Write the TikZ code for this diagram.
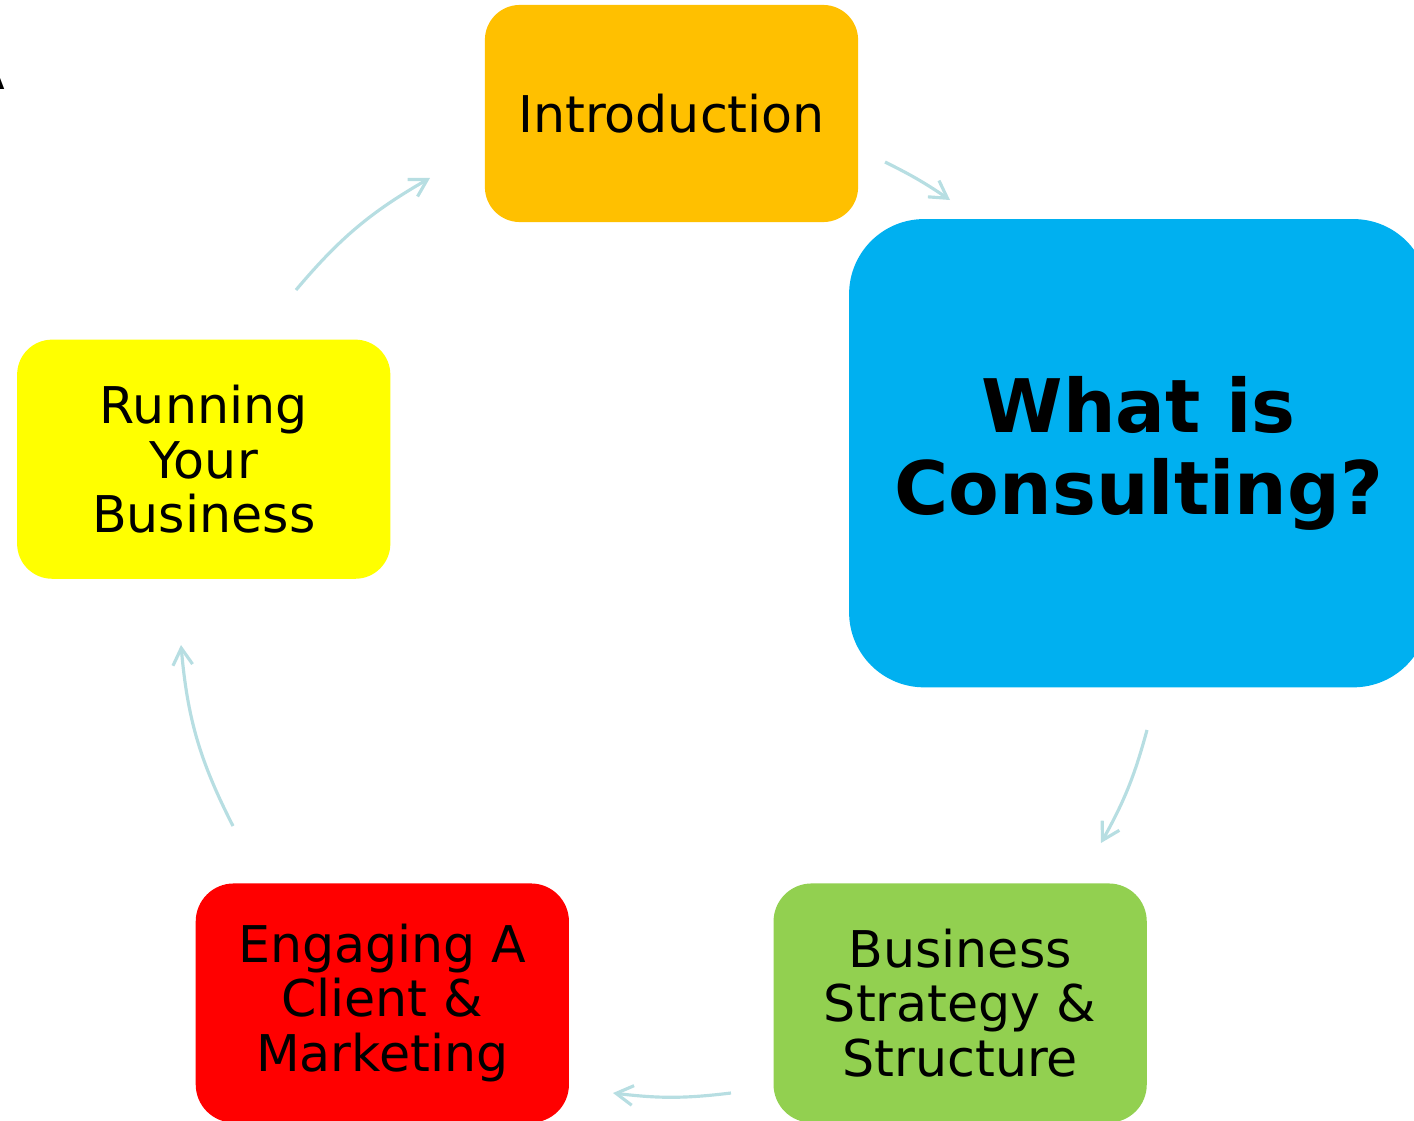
\documentclass[tikz,border=0pt]{standalone}
\usepackage{fontspec}
\setmainfont{DejaVu Sans}
\usepackage{xcolor}
\usepackage{tikz}
\definecolor{introorange}{RGB}{255,192,0}
\definecolor{consultblue}{RGB}{0,176,240}
\definecolor{stratgreen}{RGB}{146,208,80}
\definecolor{engagered}{RGB}{255,0,0}
\definecolor{runyellow}{RGB}{255,255,0}
\definecolor{cyclearrow}{RGB}{183,222,226}
\usetikzlibrary{arrows.meta, positioning}
\tikzset{
	box/.style={rectangle, align=center, inner sep=0pt, minimum width=3.73cm, minimum height=2.39cm, rounded corners=0.38cm, font=\fontsize{14.4}{15.6}\selectfont},
	flow/.style={-{Straight Barb[length=4.8pt, width=5.6pt]}, line width=0.9pt, draw=cyclearrow}
}

\begin{document}
\begin{tikzpicture}[x=0.01cm, y=0.01cm]
	\useasboundingbox (0,0) rectangle (1414,-1121);
	
	\node[anchor=base east, inner sep=0pt, font=\fontsize{14.4}{15.6}\selectfont] (cut) at (6,-90) {A};
	
	\node[box, minimum height=2.17cm, rounded corners=0.35cm, fill=introorange] (intro) at (671.5,-113.5) {Introduction};
	
	\node[box, right of=intro, minimum width=5.79cm, minimum height=4.68cm, rounded corners=0.75cm, xshift=3.67cm, yshift=-3.395cm, fill=consultblue, font=\fontsize{21}{23.3}\selectfont\bfseries] (what) {What is\\Consulting?};
	
	\node[box, below of=what, xshift=-1.785cm, yshift=-4.495cm, fill=stratgreen] (strat) {Business\\Strategy \&\\Structure};
	
	\node[box, left of=strat, xshift=-4.775cm, fill=engagered] (engage) {Engaging A\\Client \&\\Marketing};
	
	\node[box, above of=engage, xshift=-1.785cm, yshift=4.435cm, rounded corners=0.35cm, fill=runyellow] (run) {Running\\Your\\Business};
	
	% arrow ends around the cycle
	\coordinate (p1) at (885,-162);
	\coordinate (q1) at (950,-200);
	\coordinate (p2) at (1147,-730);
	\coordinate (q2) at (1101,-843);
	\coordinate (p3) at (731,-1093);
	\coordinate (q3) at (613,-1093);
	\coordinate (p4) at (233,-826);
	\coordinate (q4) at (181,-645);
	\coordinate (p5) at (296,-290);
	\coordinate (q5) at (430,-178);
	
	\draw[flow] (p1) to[bend left=4] (q1);
	
	\draw[flow] (p2) to[bend left=7] (q2);
	
	\draw[flow] (p3) to[bend left=7] (q3);
	
	\draw[flow] (p4) to[bend left=11] (q4);
	
	\draw[flow] (p5) to[bend left=10] (q5);
\end{tikzpicture}
\end{document}
